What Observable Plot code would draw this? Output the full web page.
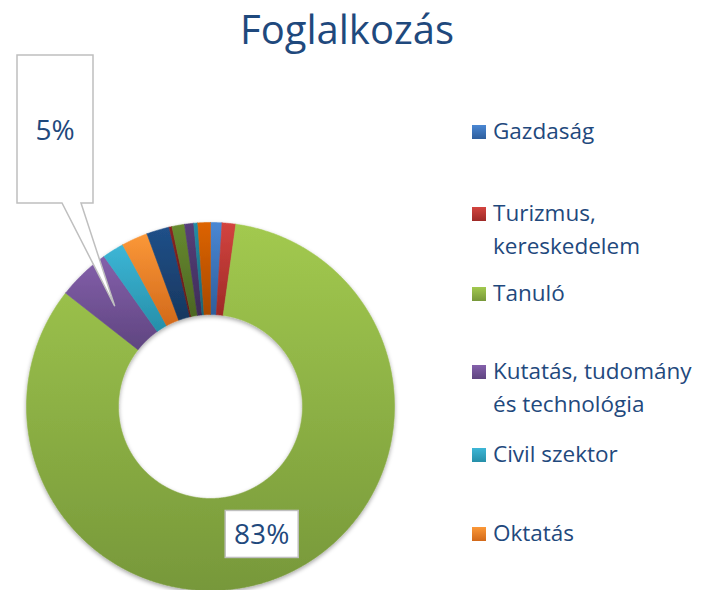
<!DOCTYPE html>
<html><head><meta charset="utf-8">
<script src="https://cdn.jsdelivr.net/npm/d3@7"></script>
<script src="https://cdn.jsdelivr.net/npm/@observablehq/plot@0.6"></script>
<style>
html,body{margin:0;padding:0;background:#fff;}
#chart{position:relative;width:703px;height:590px;overflow:hidden;}
</style></head><body><div id="chart"></div>
<script>
// ---- data ----
const title = "Foglalkozás";
const categories = [
  "Gazdaság", "Turizmus, kereskedelem", "Tanuló", "Kutatás, tudomány és technológia",
  "Civil szektor", "Oktatás", "Kategória 7", "Kategória 8", "Kategória 9",
  "Kategória 10", "Kategória 11", "Kategória 12"
];
const values = [1.0, 1.2, 83.2, 4.6, 1.9, 2.3, 2.0, 0.25, 1.1, 0.8, 0.35, 1.1];
const lightColors = ["#4A87D3", "#D3443F", "#A2C94F", "#8460AB", "#3DB6D6", "#FB9838",
                     "#205089", "#8A2321", "#678A2F", "#573F7A", "#238DA5", "#DD6306"];
const darkColors  = ["#2E5E9C", "#9E2A27", "#77983A", "#5F4580", "#268FA9", "#D2691A",
                     "#17375F", "#631816", "#4C6623", "#3E2C58", "#186577", "#A84A03"];
const legendCount = 6;
const labelled = [{index: 3, text: "5%"}, {index: 2, text: "83%"}];

// ---- geometry from data ----
const rows = categories.map((name, i) => ({name, value: values[i], i}));
const arcs = d3.pie().sort(null).value(d => d.value)(rows);
const R1 = 1, R0 = 0.5;
function ring(a0, a1) {
  const n = Math.max(2, Math.ceil((a1 - a0) / 0.005));
  const pts = [];
  for (let k = 0; k <= n; k++) { const a = a0 + (a1 - a0) * k / n; pts.push({x: R1 * Math.sin(a), y: R1 * Math.cos(a)}); }
  for (let k = n; k >= 0; k--) { const a = a0 + (a1 - a0) * k / n; pts.push({x: R0 * Math.sin(a), y: R0 * Math.cos(a)}); }
  pts.push(pts[0]);
  return pts;
}

const chart = Plot.plot({
  width: 703, height: 590, margin: 0,
  style: {background: "transparent", overflow: "visible"},
  x: {domain: [-1, 1], range: [26, 394], axis: null},
  y: {domain: [-1, 1], range: [590, 222], axis: null},
  marks: arcs.map(a => Plot.line(ring(a.startAngle, a.endAngle), {
    x: "x", y: "y", fill: `url(#g${a.data.i})`, stroke: `url(#g${a.data.i})`, strokeWidth: 0.6, curve: "linear"
  }))
});
document.getElementById("chart").appendChild(chart);

const svg = d3.select(chart);
const defs = svg.insert("defs", ":first-child");
categories.forEach((c, i) => {
  const g = defs.append("linearGradient").attr("id", `g${i}`).attr("x1", 0).attr("y1", 0).attr("x2", 0).attr("y2", 1);
  g.append("stop").attr("offset", "0%").attr("stop-color", lightColors[i]);
  g.append("stop").attr("offset", "100%").attr("stop-color", darkColors[i]);
});
const f = defs.append("filter").attr("id", "shadow").attr("x", "-10%").attr("y", "-10%").attr("width", "120%").attr("height", "120%");
f.append("feDropShadow").attr("dx", 0).attr("dy", 2).attr("stdDeviation", 2.2).attr("flood-color", "#000").attr("flood-opacity", 0.35);

// group slices for a common shadow
const groups = svg.selectAll('g[aria-label="line"]').nodes();
const donut = svg.append("g").attr("filter", "url(#shadow)");
groups.forEach(n => donut.node().appendChild(n));

const sx = chart.scale("x"), sy = chart.scale("y");
const textColor = "#1F497D";
const font = "'Open Sans', sans-serif";

// title
svg.append("text").attr("x", 347).attr("y", 44).attr("text-anchor", "middle")
  .attr("font-family", font).attr("font-size", 40).attr("fill", textColor).text(title);

// data labels
function centroid(i) {
  const a = arcs.find(d => d.data.i === i);
  const m = (a.startAngle + a.endAngle) / 2, r = (R0 + R1) / 2;
  return [sx.apply(r * Math.sin(m)), sy.apply(r * Math.cos(m))];
}
const lab = svg.append("g");
// 83% box at centroid
{
  const [cx, cy] = centroid(2);
  lab.append("rect").attr("x", cx - 36.5).attr("y", cy - 23.5).attr("width", 73).attr("height", 47)
    .attr("fill", "#fff").attr("stroke", "#BFBFBF").attr("stroke-width", 1.5);
  lab.append("text").attr("x", cx).attr("y", cy + 10).attr("text-anchor", "middle")
    .attr("font-family", font).attr("font-size", 28).attr("fill", textColor).text(labelled[1].text);
}
// 5% callout
{
  const [tx, ty] = centroid(3);
  const bx0 = 17, bx1 = 93, by0 = 55, by1 = 203;
  lab.append("path").attr("d", `M${bx0},${by0}H${bx1}V${by1}H81L${tx},${ty}L62,${by1}H${bx0}Z`)
    .attr("fill", "#fff").attr("stroke", "#BFBFBF").attr("stroke-width", 1.5).attr("stroke-linejoin", "miter");
  lab.append("text").attr("x", (bx0 + bx1) / 2).attr("y", 140).attr("text-anchor", "middle")
    .attr("font-family", font).attr("font-size", 28).attr("fill", textColor).text(labelled[0].text);
}

// legend
const legendSize = 22.5;
const ctx = document.createElement("canvas").getContext("2d");
ctx.font = `${legendSize}px ${font}`;
function wrap(str, maxW) {
  const words = str.split(" "), lines = [];
  let cur = "";
  for (const w of words) {
    const t = cur ? cur + " " + w : w;
    if (ctx.measureText(t).width > maxW && cur) { lines.push(cur); cur = w; } else cur = t;
  }
  lines.push(cur);
  return lines;
}
const legendBaselines = [139, 221, 301, 379, 462, 541];
const leg = svg.append("g").attr("text-anchor", "start");
for (let i = 0; i < legendCount; i++) {
  const y = legendBaselines[i];
  leg.append("rect").attr("x", 472).attr("y", y - 14).attr("width", 14).attr("height", 14).attr("fill", `url(#g${i})`);
  const lines = wrap(categories[i], 215);
  const t = leg.append("text").attr("x", 493).attr("y", y).attr("text-anchor", "start").attr("font-family", font)
    .attr("font-size", legendSize).attr("fill", textColor);
  lines.forEach((l, k) => t.append("tspan").attr("x", 493).attr("dy", k ? 33 : 0).text(l));
}
</script></body></html>
